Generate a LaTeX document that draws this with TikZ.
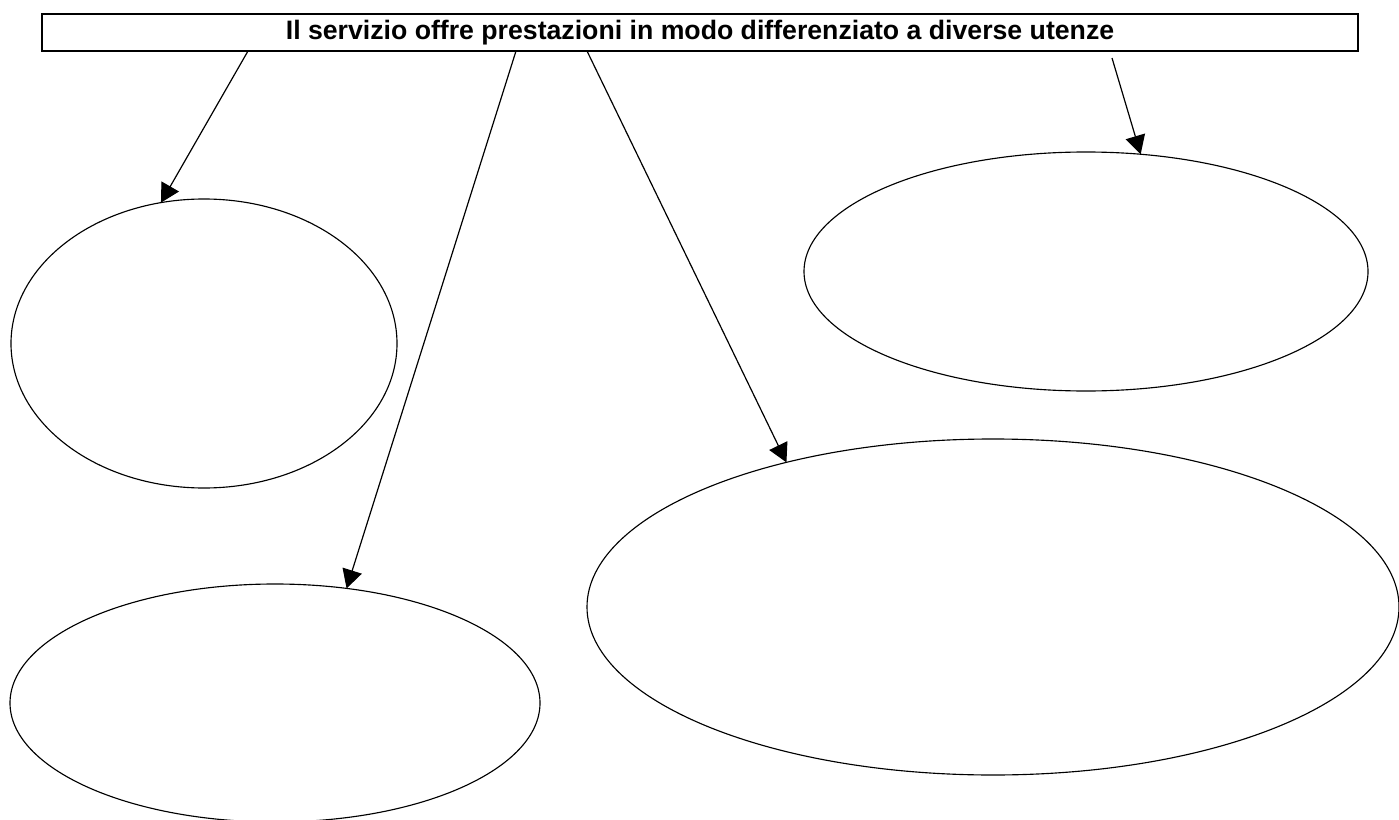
\documentclass[tikz,border=0pt]{standalone}
\usepackage{fontspec}
\setmainfont{Liberation Sans}
\usetikzlibrary{arrows.meta,shapes.geometric}
\tikzset{
    %Define standard arrow tip
    >={Triangle[length=14pt,width=15pt]},
    %Define style for the title box
    titlenode/.style={
             rectangle,
             draw=black, line width=1.5pt,
             inner sep=0pt,
             font=\fontsize{20}{24}\selectfont\bfseries},
    %Define style for the empty ellipses
    usernode/.style={
             ellipse,
             draw=black, line width=0.85pt,
             inner sep=0pt, outer sep=0pt},
    % Define arrow style
    userarrow/.style={
            ->,
            line width=0.9pt}
}
\begin{document}
\begin{tikzpicture}[x=0.75pt, y=-0.75pt]
 \useasboundingbox (0,0) rectangle (1399,820);
 \node[titlenode, minimum width=987pt, minimum height=27.75pt] (title) at (700,32.5)
      {Il servizio offre prestazioni in modo differenziato a diverse utenze};
 \node[usernode, minimum width=289.5pt, minimum height=216.75pt] (left) at (204,343.5) {};
 \node[usernode, minimum width=397.5pt, minimum height=178.5pt] (lowleft) at (275,703) {};
 \node[usernode, minimum width=423pt, minimum height=179.25pt] (right) at (1086,271.5) {};
 \node[usernode, minimum width=609pt, minimum height=252pt] (lowright) at (993,607) {};
 %start points of the arrows
 \coordinate (s1) at (248,51);
 \coordinate (s2) at (516,51);
 \coordinate (s3) at (587,51);
 \coordinate (s4) at (1112,58);
 \path (s1) edge[userarrow] (left.107.8)
       (s2) edge[userarrow] (lowleft.58.3)
       (s3) edge[userarrow] (lowright.145.8)
       (s4) edge[userarrow] (right.65.3);
\end{tikzpicture}
\end{document}
